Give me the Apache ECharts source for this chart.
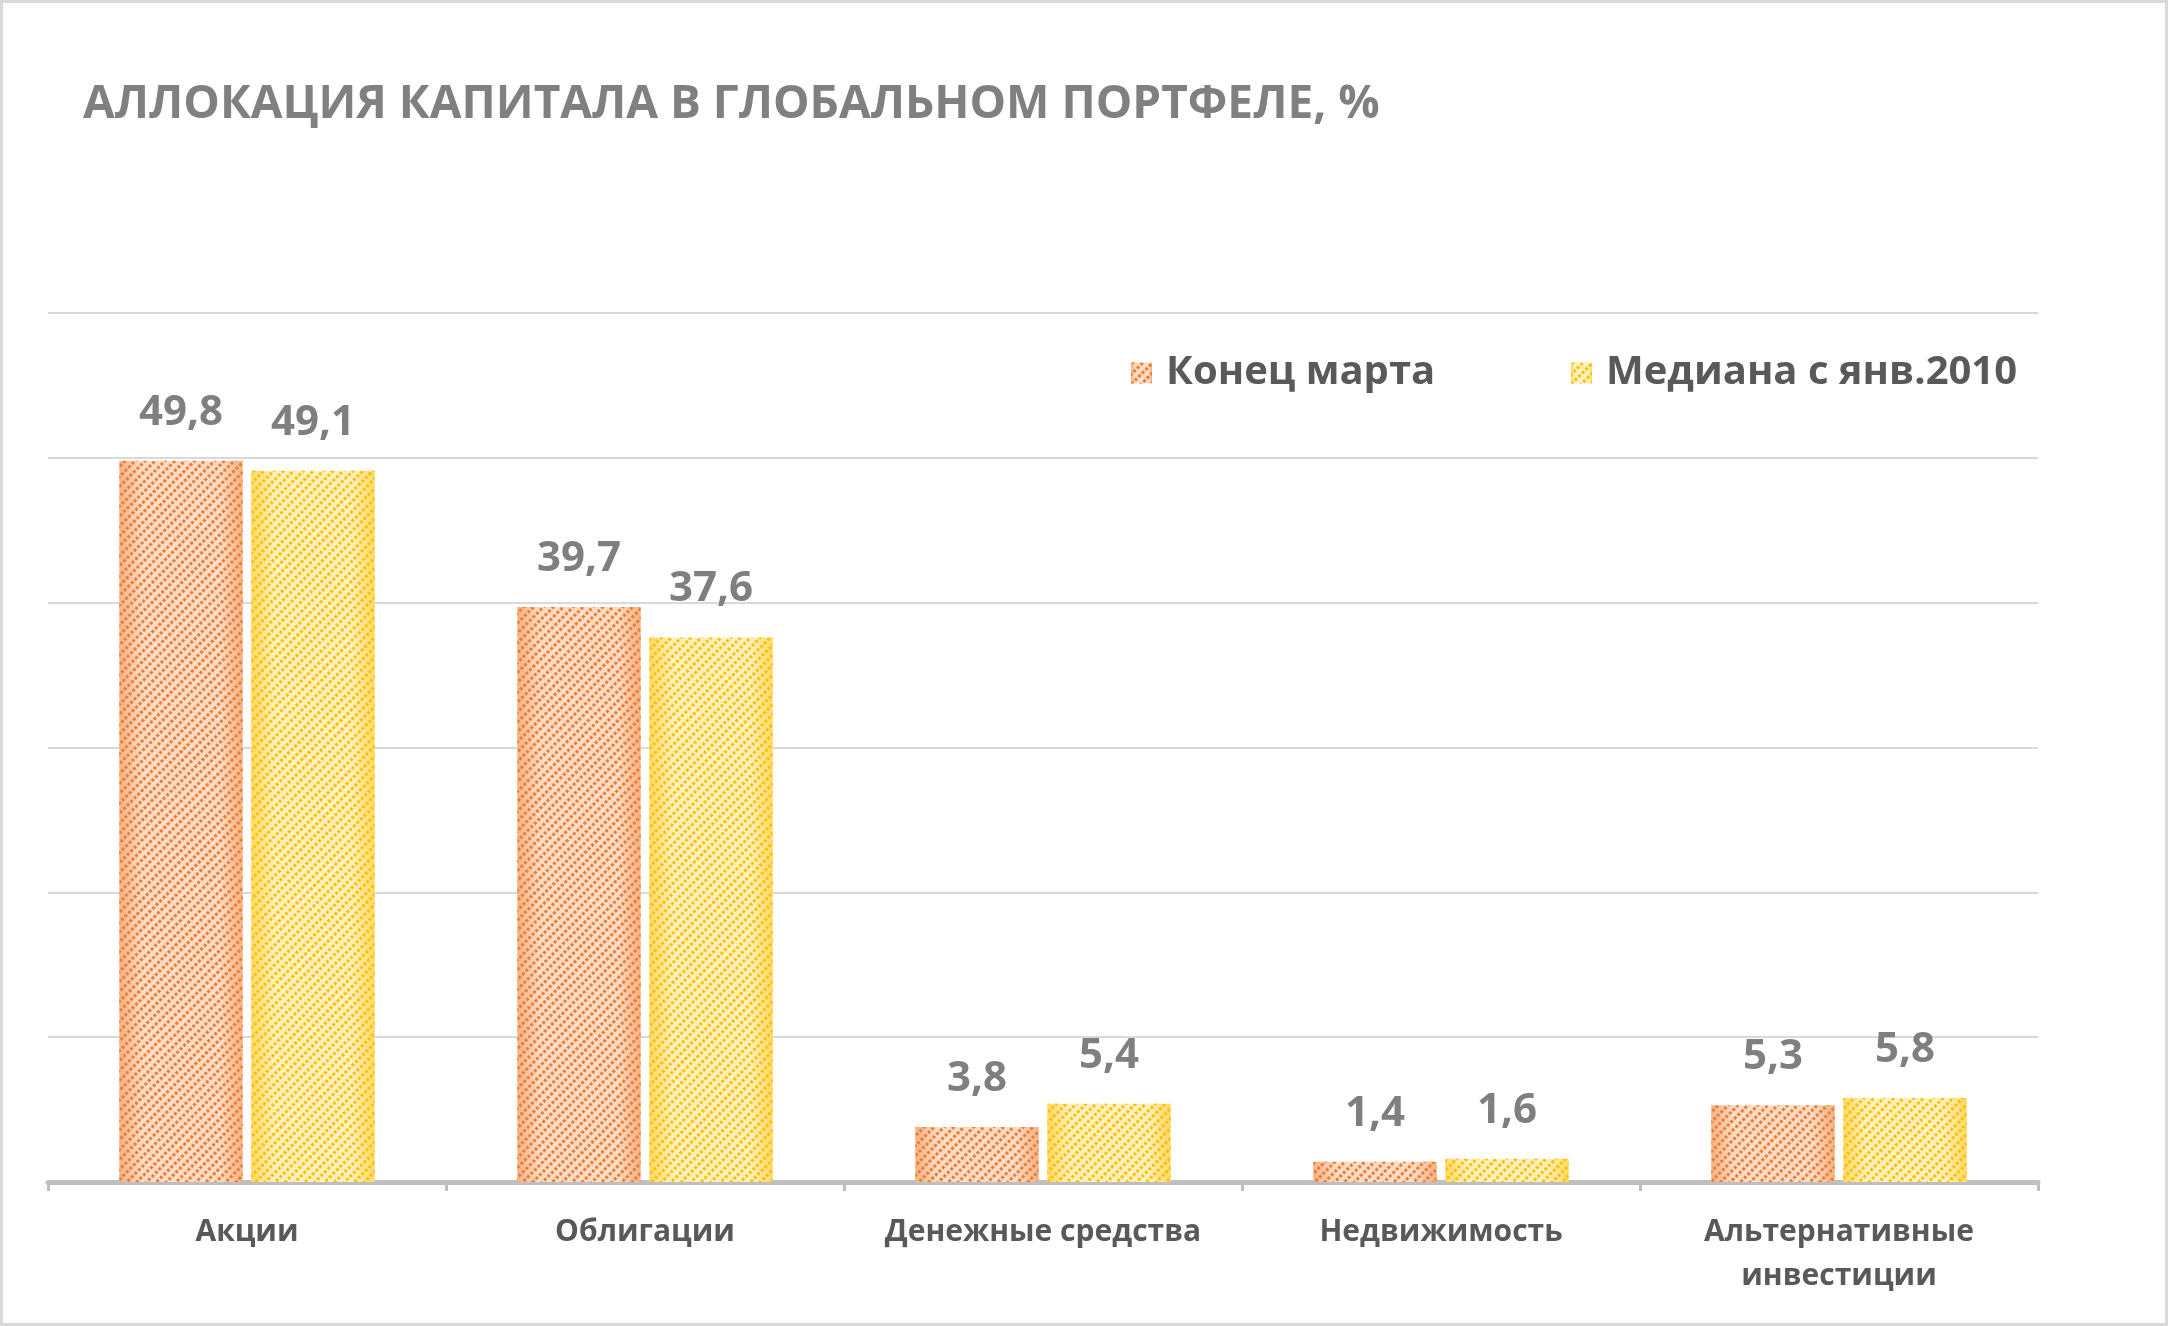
<!DOCTYPE html>
<html>
<head>
<meta charset="utf-8">
<script src="https://cdn.jsdelivr.net/npm/echarts@6/dist/echarts.min.js"></script>
<style>
  html, body { margin: 0; padding: 0; background: #fff; }
  #chart { width: 2168px; height: 1326px; }
</style>
</head>
<body>
<div id="chart"></div>
<script>
// данные графика
var categories = ['Акции', 'Облигации', 'Денежные средства', 'Недвижимость', 'Альтернативные инвестиции'];
var seriesNames = ['Конец марта', 'Медиана с янв.2010'];
var endOfMarch = [49.8, 39.7, 3.8, 1.4, 5.3];
var median2010 = [49.1, 37.6, 5.4, 1.6, 5.8];
var valueTicks = [0, 10, 20, 30, 40, 50, 60];

var FONT = 'Open Sans';

function barColor(edge, mid) {
    return new echarts.graphic.LinearGradient(0, 0, 1, 0, [
        { offset: 0, color: edge },
        { offset: 0.18, color: mid },
        { offset: 0.82, color: mid },
        { offset: 1, color: edge }
    ]);
}

function stripes(c) {
    return {
        symbol: 'rect',
        symbolSize: 1,
        color: c,
        dashArrayX: [[3, 2]],
        dashArrayY: [3, 4],
        rotation: -Math.PI / 4
    };
}

var myChart = echarts.init(document.getElementById('chart'));

var labelStyle = {
    show: true,
    position: 'top',
    distance: 27,
    fontFamily: FONT,
    fontSize: 42,
    fontWeight: 'bold',
    color: '#7f7f7f',
    formatter: function (p) { return String(p.value).replace('.', ','); }
};

var legendBase = {
    top: 353,
    padding: 0,
    itemWidth: 21,
    itemHeight: 21,
    icon: 'rect',
    textStyle: {
        fontFamily: FONT,
        fontSize: 40,
        fontWeight: 'bold',
        color: '#595959',
        padding: [0, 0, 0, 9]
    }
};

var option = {
    animation: false,
    backgroundColor: '#ffffff',
    title: {
        text: 'АЛЛОКАЦИЯ КАПИТАЛА В ГЛОБАЛЬНОМ ПОРТФЕЛЕ, %',
        left: 83,
        top: 75,
        padding: 0,
        textStyle: {
            fontFamily: FONT,
            fontSize: 46,
            fontWeight: 'bold',
            color: '#808080',
            lineHeight: 60
        }
    },
    legend: [
        echarts.util.extend({ left: 1131, data: [seriesNames[0]] }, legendBase),
        echarts.util.extend({ left: 1571, data: [seriesNames[1]] }, legendBase)
    ],
    graphic: [{
        type: 'rect',
        shape: { x: 0, y: 0, width: 2168, height: 1326 },
        style: { fill: 'none', stroke: '#d9d9d9', lineWidth: 6 },
        silent: true
    }],
    grid: {
        left: 48,
        right: 130,
        top: 313,
        bottom: 144,
        containLabel: false,
        outerBoundsMode: 'none'
    },
    xAxis: {
        type: 'category',
        data: categories,
        axisLine: { show: true, lineStyle: { color: '#bfbfbf', width: 5 } },
        axisTick: { show: true, length: 9, lineStyle: { color: '#bfbfbf', width: 3 } },
        axisLabel: {
            interval: 0,
            margin: 28,
            fontFamily: FONT,
            fontSize: 30,
            fontWeight: 'bold',
            color: '#595959',
            lineHeight: 44,
            // длинную подпись переносим на две строки
            formatter: function (v) { return v.length > 20 ? v.replace(' ', '\n') : v; }
        }
    },
    yAxis: {
        type: 'value',
        min: valueTicks[0],
        max: valueTicks[valueTicks.length - 1],
        interval: valueTicks[1] - valueTicks[0],
        axisLine: { show: false },
        axisTick: { show: false },
        axisLabel: { show: false },
        splitLine: { show: true, lineStyle: { color: '#d9d9d9', width: 2 } }
    },
    series: [
        {
            name: seriesNames[0],
            type: 'bar',
            barWidth: '31%',
            barGap: '7%',
            data: endOfMarch,
            itemStyle: {
                color: barColor('#f4b183', '#fbdcc6'),
                decal: stripes('#ed7d31')
            },
            label: labelStyle
        },
        {
            name: seriesNames[1],
            type: 'bar',
            barWidth: '31%',
            barGap: '7%',
            data: median2010,
            itemStyle: {
                color: barColor('#ffd966', '#fff0c0'),
                decal: stripes('#ffc000')
            },
            label: labelStyle
        }
    ]
};

myChart.setOption(option);
</script>
</body>
</html>
